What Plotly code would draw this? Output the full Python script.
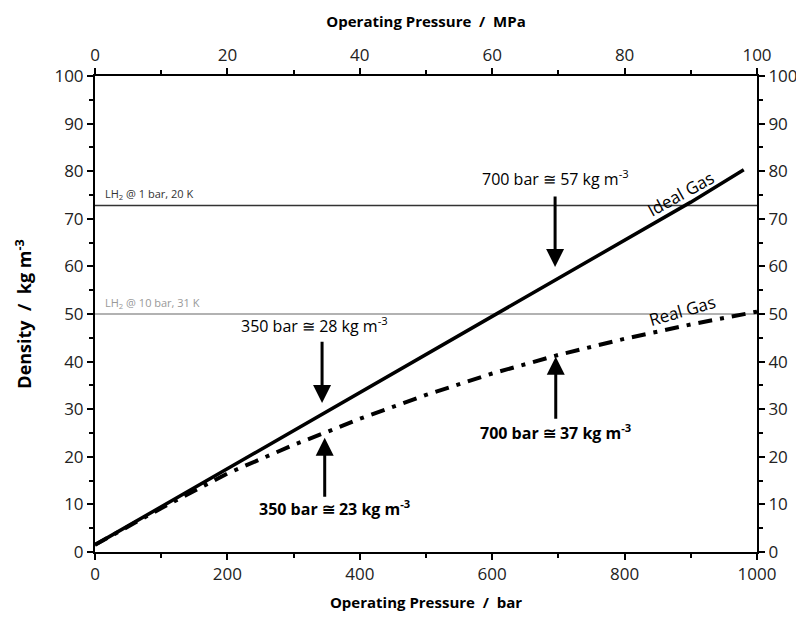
import plotly.graph_objects as go

# Data
pressure_bar = [0, 100, 200, 300, 400, 500, 600, 700, 800, 900, 980]
ideal_density = [1.5, 9.5, 17.5, 25.5, 33.5, 41.5, 49.5, 57.5, 65.5, 73.5, 80.3]
real_pressure = [0, 100, 200, 300, 350, 400, 500, 600, 700, 800, 900, 1000]
real_density = [1.5, 9.2, 16.5, 22.5, 25.2, 28.0, 33.0, 37.5, 41.4, 44.8, 47.8, 50.5]
lh2_levels = [72.8, 50.0]
lh2_labels = ["LH<sub>2</sub> @ 1 bar, 20 K", "LH<sub>2</sub> @ 10 bar, 31 K"]
lh2_colors = ["#333333", "#999999"]

FONT = "Open Sans"
fig = go.Figure()

for lvl, col in zip(lh2_levels, lh2_colors):
    fig.add_trace(go.Scatter(x=[0, 1000], y=[lvl, lvl], mode="lines",
                             line=dict(color=col, width=1.5), showlegend=False, hoverinfo="skip"))

fig.add_trace(go.Scatter(x=pressure_bar, y=ideal_density, mode="lines",
                         line=dict(color="black", width=3.5), showlegend=False))
fig.add_trace(go.Scatter(x=real_pressure, y=real_density, mode="lines",
                         line=dict(color="black", width=4, dash="14px,8px,4px,8px"), showlegend=False))
# dummy traces for secondary axes
fig.add_trace(go.Scatter(x=[0, 100], y=[None, None], xaxis="x2", yaxis="y2", showlegend=False))

ann = []
for lvl, lab, col in zip(lh2_levels, lh2_labels, lh2_colors):
    ann.append(dict(x=12, y=lvl, text=lab, showarrow=False, xanchor="left", yanchor="bottom",
                    yshift=1, font=dict(size=11, color=col, family=FONT)))

arrows = [
    # text, text_x, text_y, arrow_x, tail_y, head_y
    ("700 bar \u2245 57 kg m<sup>-3</sup>", 696, 78.6, 695, 75.0, 59.9),
    ("350 bar \u2245 28 kg m<sup>-3</sup>", 332, 47.7, 343, 44.5, 31.3),
    ("<b>350 bar \u2245 23 kg m<sup>-3</sup></b>", 362, 9.2, 347, 11.3, 24.0),
    ("<b>700 bar \u2245 37 kg m<sup>-3</sup></b>", 695, 25.2, 696, 27.7, 41.0),
]
for text, tx, ty, axx, tail, head in arrows:
    ann.append(dict(x=tx, y=ty, text=text, showarrow=False,
                    font=dict(size=16, color="black", family=FONT)))
    ann.append(dict(x=axx, y=head, ax=axx, ay=tail, axref="x", ayref="y", text="",
                    showarrow=True, arrowhead=2, arrowsize=1.2, arrowwidth=3, arrowcolor="black"))

ann.append(dict(x=885, y=75.4, text="Ideal Gas", showarrow=False, textangle=-29,
                font=dict(size=17, color="black", family=FONT)))
ann.append(dict(x=887, y=50.8, text="Real Gas", showarrow=False, textangle=-16,
                font=dict(size=17, color="black", family=FONT)))

axis_common = dict(showline=True, linecolor="black", linewidth=2, ticks="outside",
                   tickcolor="black", tickwidth=2, ticklen=6, showgrid=False, zeroline=False,
                   automargin=False,
                   tickfont=dict(size=17, color="#222222", family=FONT))
minor = dict(ticks="outside", ticklen=4, tickcolor="black", tickwidth=2)

fig.update_layout(
    width=796, height=619,
    margin=dict(l=95, r=39, t=76, b=67),
    plot_bgcolor="white", paper_bgcolor="white",
    xaxis=dict(range=[0, 1000], dtick=200, minor=dict(dtick=100, **minor),
               title=dict(text="<b>Operating Pressure  /  bar</b>", font=dict(size=15, family=FONT, color="black"),
                          standoff=13),
               **axis_common),
    xaxis2=dict(range=[0, 100], dtick=20, overlaying="x", side="top", anchor="y",
                minor=dict(dtick=10, **minor),
                title=dict(text="<b>Operating Pressure  /  MPa</b>", font=dict(size=15, family=FONT, color="black"),
                           standoff=12),
                **axis_common),
    yaxis=dict(range=[0, 100], dtick=10, minor=dict(dtick=5, **minor),
               title=dict(text="<b>Density  /  kg m<sup>-3</sup></b>", font=dict(size=18, family=FONT, color="black"),
                          standoff=18),
               **axis_common),
    yaxis2=dict(range=[0, 100], dtick=10, overlaying="y", side="right", anchor="x",
                minor=dict(dtick=5, **minor),
                **axis_common),
    annotations=ann,
    showlegend=False,
)

fig.write_html("out.html", config={"displayModeBar": False},
               post_script="document.body.style.margin='0';document.body.style.overflow='hidden';")
